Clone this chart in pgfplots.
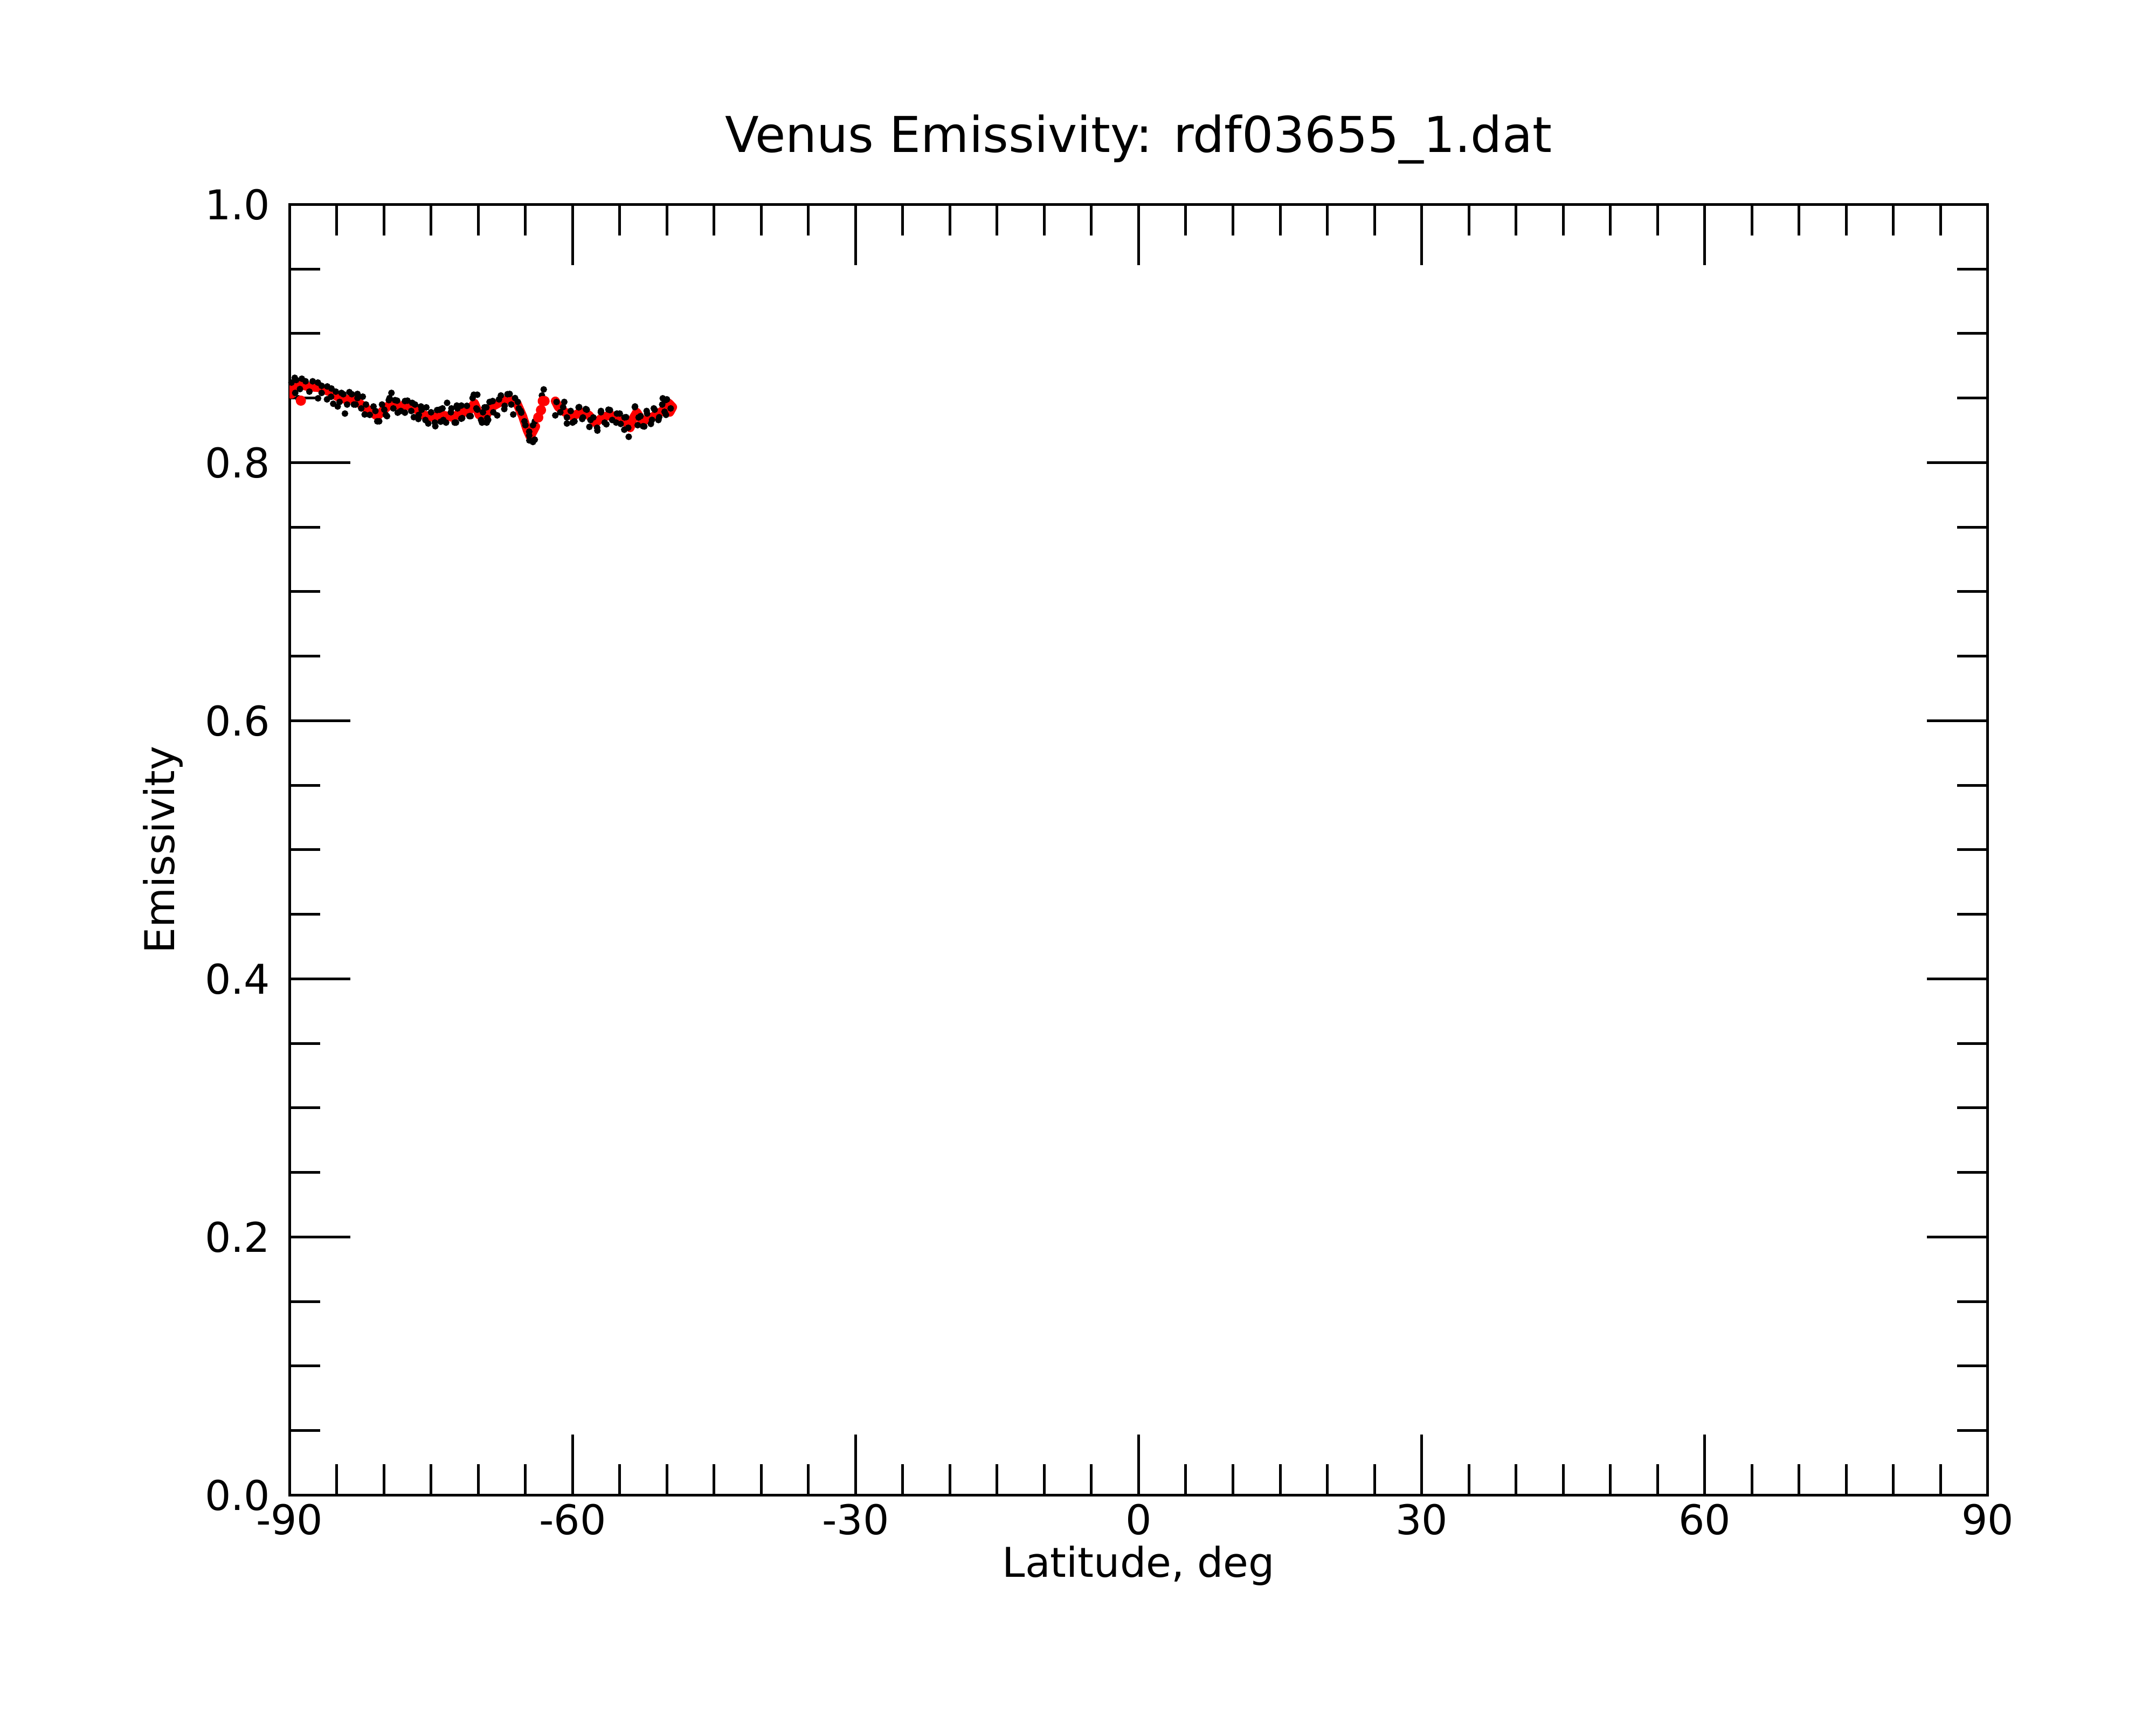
\documentclass[border=0pt]{standalone}
\usepackage{fontspec}
\setmainfont{DejaVu Sans}
\usepackage{pgfplots}
\pgfplotsset{compat=1.18}
\begin{document}
\begin{tikzpicture}
\path[use as bounding box] (-96.7pt,-76.6pt) rectangle (623.3pt,499.4pt);
\begin{axis}[
  at={(0,0)}, anchor=south west,
  scale only axis, width=567.1pt, height=431.1pt,
  xmin=-90, xmax=90, ymin=0, ymax=1,
  xtick={-90,-60,-30,0,30,60,90},
  xticklabels={-90,-60,-30,0,30,60,90},
  ytick={0,0.2,0.4,0.6,0.8,1.0},
  yticklabels={0.0,0.2,0.4,0.6,0.8,1.0},
  minor x tick num=5, minor y tick num=3,
  tick align=inside, tick pos=both,
  major tick length=20.3pt, minor tick length=10.3pt,
  axis line style={line width=0.9pt},
  every tick/.style={line width=0.9pt, black},
  tick label style={font=\fontsize{13.7}{16}\selectfont},
  xticklabel style={anchor=base, inner sep=0pt, yshift=-13.1pt},
  yticklabel style={anchor=east, inner sep=0pt, xshift=-6.3pt},
  xlabel={Latitude, deg}, ylabel={Emissivity},
  label style={font=\fontsize{13.7}{16}\selectfont},
  xlabel style={at={(axis description cs:0.5,-0.0636)}, anchor=base, inner sep=0pt},
  ylabel style={at={(axis description cs:-0.0744,0.5)}, anchor=center, inner sep=0pt},
  title={Venus Emissivity: rdf03655\_1.dat},
  title style={at={(axis description cs:0.5,1.0265)}, anchor=base, inner sep=0pt, font=\fontsize{16.5}{19}\selectfont},
]
% raw data (black dots)
\addplot[only marks, mark=*, mark size=0.9pt, black] table {
x y
-89.45 0.8657
-88.7 0.865
-87.55 0.863
-86.6 0.8595
-85.56 0.8574
-84.5 0.854
-83.66 0.8546
-82.8 0.8532
-82.24 0.8511
-81.1 0.8435
-79.96 0.841
-89.07 0.8498
-86.98 0.8498
-86.03 0.849
-85.37 0.8456
-84.9 0.8435
-84.13 0.838
-83.18 0.845
-82.04 0.8373
-80.7 0.832
-79.2 0.854
-79.48 0.8484
-78.82 0.8484
-79.67 0.836
-77.77 0.8477
-77.0 0.8463
-76.07 0.8435
-75.5 0.8428
-74.36 0.8407
-73.79 0.842
-73.3 0.8463
-72.84 0.842
-72.27 0.8442
-71.79 0.8442
-70.47 0.8526
-70.1 0.8526
-69.33 0.8428
-78.54 0.8387
-77.77 0.8387
-76.83 0.8352
-76.35 0.8338
-75.3 0.8303
-74.55 0.8282
-73.98 0.8317
-73.41 0.831
-72.36 0.831
-71.7 0.8345
-70.94 0.836
-69.6 0.831
-69.04 0.8345
-69.14 0.8428
-68.47 0.8477
-67.8 0.849
-66.67 0.8532
-65.81 0.847
-65.44 0.8387
-64.2 0.829
-63.06 0.8567
-63.25 0.852
-60.88 0.847
-59.36 0.8428
-68.95 0.8331
-67.99 0.8366
-67.24 0.8415
-66.29 0.8373
-64.58 0.8172
-64.01 0.8178
-61.83 0.8366
-60.6 0.8303
-60.0 0.831
-58.98 0.8338
-58.6 0.8415
-56.99 0.84
-56.04 0.8407
-55.0 0.838
-54.33 0.8352
-53.38 0.8435
-52.15 0.84
-51.39 0.842
-50.44 0.8498
-50.15 0.8484
-58.22 0.8277
-57.37 0.8248
-56.42 0.8297
-55.38 0.831
-54.52 0.8255
-54.05 0.82
-53.1 0.829
-52.53 0.8282
-51.58 0.8331
-50.82 0.8352
-50.25 0.8394
-89.8 0.862
-89.4 0.854
-89.3 0.864
-88.9 0.857
-88.3 0.863
-87.9 0.855
-87.0 0.862
-86.6 0.854
-86.0 0.859
-85.6 0.851
-85.1 0.855
-84.7 0.847
-84.3 0.853
-83.9 0.845
-83.4 0.853
-83.0 0.845
-82.8 0.850
-82.4 0.842
-81.9 0.845
-81.5 0.837
-80.9 0.840
-80.5 0.832
-80.2 0.845
-79.8 0.837
-79.4 0.850
-79.0 0.842
-78.6 0.848
-78.2 0.840
-77.5 0.848
-77.1 0.840
-76.7 0.845
-76.3 0.837
-76.0 0.841
-75.6 0.833
-75.0 0.839
-74.6 0.831
-74.1 0.841
-73.7 0.833
-72.9 0.839
-72.5 0.831
-72.2 0.842
-71.8 0.834
-71.2 0.844
-70.8 0.836
-70.6 0.850
-70.2 0.842
-70.1 0.841
-69.7 0.833
-69.5 0.839
-69.1 0.831
-68.8 0.847
-68.4 0.839
-67.6 0.852
-67.2 0.844
-66.9 0.853
-66.5 0.845
-66.1 0.850
-65.7 0.842
-65.5 0.840
-65.1 0.832
-65.0 0.829
-64.6 0.821
-64.6 0.824
-64.2 0.816
-64.0 0.832
-61.7 0.847
-61.3 0.839
-61.0 0.843
-60.6 0.835
-60.2 0.840
-59.8 0.832
-59.3 0.843
-58.9 0.835
-58.5 0.841
-58.1 0.833
-57.8 0.835
-57.4 0.827
-57.0 0.839
-56.6 0.831
-56.2 0.841
-55.8 0.833
-55.3 0.838
-54.9 0.830
-54.5 0.835
-54.1 0.827
-53.4 0.843
-53.0 0.835
-52.8 0.836
-52.4 0.828
-52.1 0.838
-51.7 0.830
-51.3 0.841
-50.9 0.833
-50.5 0.845
-50.1 0.837
-50.0 0.849
-49.6 0.842
};
% smoothed (red), first segment
\addplot[red, line width=3pt, line join=round, line cap=round] table {
x y
-89.8 0.853
-89.6 0.858
-89.1 0.861
-88.1 0.859
-86.8 0.858
-85.8 0.855
-84.9 0.851
-84.1 0.849
-83.2 0.849
-82.6 0.846
-81.7 0.841
-80.7 0.836
-80.0 0.841
-79.2 0.846
-78.4 0.844
-77.3 0.844
-76.5 0.841
-75.8 0.837
-74.8 0.835
-73.9 0.837
-72.7 0.835
-72.0 0.838
-71.0 0.840
-70.4 0.846
-69.9 0.837
-69.3 0.835
-68.6 0.843
-67.4 0.848
-66.7 0.849
-65.9 0.846
-65.3 0.836
-64.8 0.825
-64.49 0.820
-63.92 0.828
};
\addplot[only marks, mark=*, mark size=1.5pt, red] table {
x y
-88.8 0.848
-63.64 0.835
-63.35 0.8407
-63.16 0.8477
-62.97 0.8477
};
% smoothed (red), second segment
\addplot[red, line width=3pt, line join=round, line cap=round] table {
x y
-61.83 0.8477
-61.5 0.843
-60.8 0.839
-60.0 0.836
-59.1 0.839
-58.3 0.837
-57.6 0.831
-56.8 0.835
-56.0 0.837
-55.1 0.834
-54.3 0.831
-53.9 0.827
-53.6 0.834
-53.2 0.839
-52.6 0.832
-51.9 0.834
-51.1 0.837
-50.3 0.841
-49.8 0.846
-49.4 0.843
-49.7 0.839
};
\end{axis}
\end{tikzpicture}
\end{document}
